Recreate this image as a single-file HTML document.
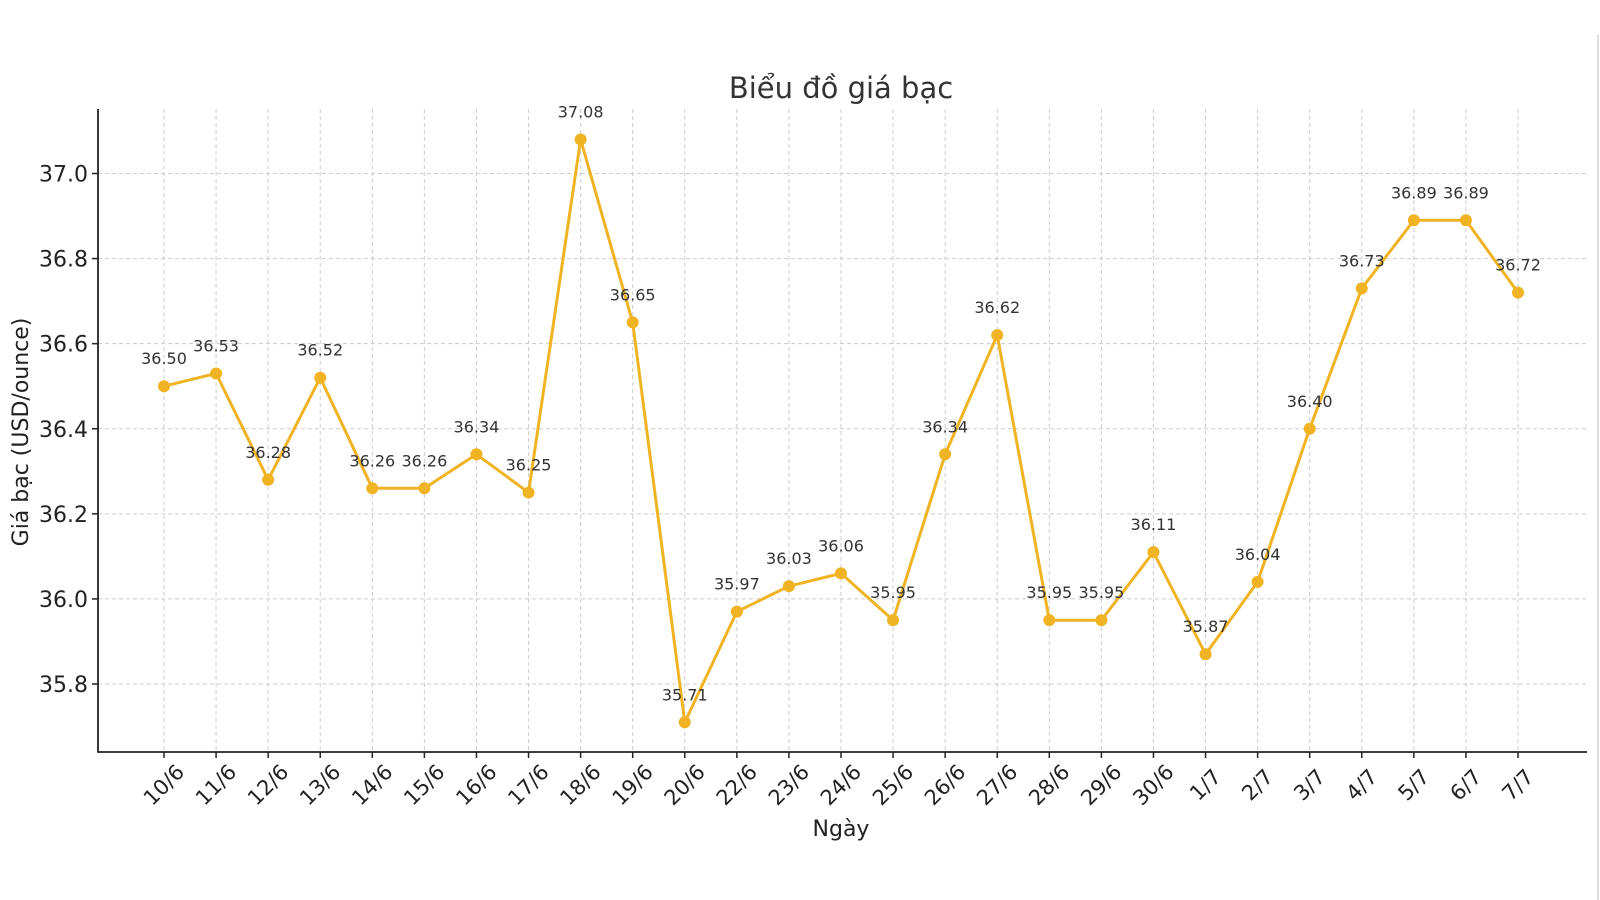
<!DOCTYPE html>
<html><head><meta charset="utf-8"><style>
html,body{margin:0;padding:0;background:#fff;}
svg{display:block;font-family:"DejaVu Sans","Liberation Sans",sans-serif;}
</style></head><body>
<svg id="chart" width="1600" height="900" viewBox="0 0 1600 900" xmlns="http://www.w3.org/2000/svg">
<line x1="1598" y1="35" x2="1598" y2="900" stroke="#ddd" stroke-width="2"/>
<text x="841" y="98" text-anchor="middle" font-size="29" fill="#333">Biểu đồ giá bạc</text>
<g id="grid"></g>
<g id="axes"></g>
<g id="series"></g>
<text x="841" y="836" text-anchor="middle" font-size="22" fill="#222">Ngày</text>
<text transform="translate(28,432) rotate(-90)" text-anchor="middle" font-size="22" fill="#222">Giá bạc (USD/ounce)</text>
</svg>
<script>
const categories=["10/6","11/6","12/6","13/6","14/6","15/6","16/6","17/6","18/6","19/6","20/6","22/6","23/6","24/6","25/6","26/6","27/6","28/6","29/6","30/6","1/7","2/7","3/7","4/7","5/7","6/7","7/7"];
const prices=[36.50,36.53,36.28,36.52,36.26,36.26,36.34,36.25,37.08,36.65,35.71,35.97,36.03,36.06,35.95,36.34,36.62,35.95,35.95,36.11,35.87,36.04,36.40,36.73,36.89,36.89,36.72];
const yTicks=[35.8,36.0,36.2,36.4,36.6,36.8,37.0];
const yTickLabels=["35.8","36.0","36.2","36.4","36.6","36.8","37.0"];

const NS="http://www.w3.org/2000/svg";
const L=98,R=1587,T=109,B=752;
const x0=164,x1=1518;
function xPos(i){return x0+(x1-x0)*i/(categories.length-1);}
function yPos(v){return 684+(35.8-v)*(684-173.5)/1.2;}
function mk(tag,attrs,parent){const e=document.createElementNS(NS,tag);for(const k in attrs)e.setAttribute(k,attrs[k]);parent.appendChild(e);return e;}
const grid=document.getElementById('grid'),axes=document.getElementById('axes'),series=document.getElementById('series');

yTicks.forEach((v,i)=>{
  const y=yPos(v);
  const g=mk('line',{x1:L,x2:R,y1:y,y2:y,stroke:'#ccc','stroke-width':1,'stroke-dasharray':'4,3'},grid);
  
  
  const t=mk('line',{x1:L-6,x2:L,y1:y,y2:y,stroke:'#222','stroke-width':1.5},axes);
  
  
  const lb=mk('text',{x:L-10,y:y+8,'text-anchor':'end','font-size':22,fill:'#222'},axes);
  lb.textContent=yTickLabels[i];
  
  
});
categories.forEach((c,i)=>{
  const x=xPos(i);
  const g=mk('line',{x1:x,x2:x,y1:T,y2:B,stroke:'#ccc','stroke-width':1,'stroke-dasharray':'4,3'},grid);
  
  
  const t=mk('line',{x1:x,x2:x,y1:B,y2:B+6,stroke:'#222','stroke-width':1.5},axes);
  
  
  const lb=mk('text',{x:x,y:792,'text-anchor':'middle','font-size':21,fill:'#222',transform:`rotate(-45 ${x} 785)`},axes);
  lb.textContent=c;
  
  
});
const ya=mk('line',{x1:L,x2:L,y1:T,y2:B+0.75,stroke:'#222','stroke-width':1.8},axes);


const xa=mk('line',{x1:L,x2:R,y1:B,y2:B,stroke:'#222','stroke-width':1.8},axes);



const pts=prices.map((v,i)=>xPos(i)+','+yPos(v)).join(' ');
const line=mk('polyline',{points:pts,fill:'none',stroke:'#f0b323','stroke-width':3,'stroke-linejoin':'round'},series);


prices.forEach((v,i)=>{
  const c=mk('circle',{cx:xPos(i),cy:yPos(v),r:6,fill:'#f0b323'},series);
  
  
  const t=mk('text',{x:xPos(i),y:yPos(v)-22,'text-anchor':'middle','font-size':16,fill:'#333'},series);
  t.textContent=v.toFixed(2);
  
  
});
</script>
</body></html>
